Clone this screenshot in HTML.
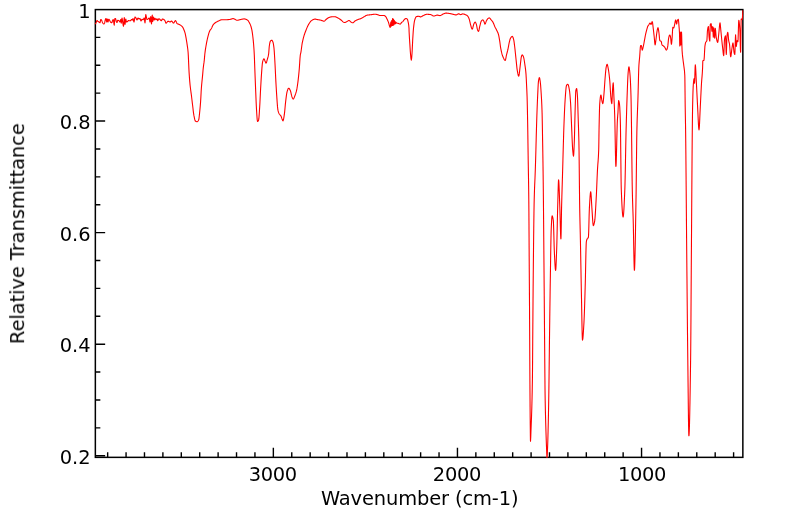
<!DOCTYPE html><html><head><meta charset="utf-8"><style>html,body{margin:0;padding:0;background:#fff;}svg{display:block;}text{font-family:"DejaVu Sans","Liberation Sans",sans-serif;font-size:19.44px;fill:#000;}</style></head><body>
<svg width="799" height="516" viewBox="0 0 799 516">
<path d="M733.60,457.35v-5 M715.19,457.35v-5 M696.78,457.35v-5 M678.37,457.35v-5 M659.96,457.35v-5 M641.55,457.35v-9.5 M623.14,457.35v-5 M604.73,457.35v-5 M586.32,457.35v-5 M567.91,457.35v-5 M549.50,457.35v-5 M531.09,457.35v-5 M512.68,457.35v-5 M494.27,457.35v-5 M475.86,457.35v-5 M457.45,457.35v-9.5 M439.04,457.35v-5 M420.63,457.35v-5 M402.22,457.35v-5 M383.81,457.35v-5 M365.40,457.35v-5 M346.99,457.35v-5 M328.58,457.35v-5 M310.17,457.35v-5 M291.76,457.35v-5 M273.35,457.35v-9.5 M254.94,457.35v-5 M236.53,457.35v-5 M218.12,457.35v-5 M199.71,457.35v-5 M181.30,457.35v-5 M162.89,457.35v-5 M144.48,457.35v-5 M126.07,457.35v-5 M107.66,457.35v-5 M95.35,455.74h9.8 M95.35,344.18h9.8 M95.35,232.62h9.8 M95.35,121.06h9.8 M95.35,427.85h5 M95.35,399.96h5 M95.35,372.07h5 M95.35,316.29h5 M95.35,288.40h5 M95.35,260.51h5 M95.35,204.73h5 M95.35,176.84h5 M95.35,148.95h5 M95.35,93.17h5 M95.35,65.28h5 M95.35,37.39h5" stroke="#000" stroke-width="1.4" fill="none"/>
<rect x="95.35" y="9.60" width="647.50" height="447.75" fill="none" stroke="#000" stroke-width="1.5"/>
<defs><clipPath id="c"><rect x="94.60" y="8.85" width="649.00" height="449.25"/></clipPath></defs>
<path d="M95.00,24.00 L95.33,23.81 L95.67,23.45 L96.00,23.00 L96.33,22.14 L96.67,21.04 L97.00,20.50 L97.33,20.71 L97.67,21.14 L98.00,21.50 L98.33,21.68 L98.67,21.83 L99.00,22.00 L99.33,22.28 L99.67,22.60 L100.00,22.75 L100.25,21.91 L100.50,20.34 L100.75,19.50 L101.00,19.57 L101.25,19.76 L101.50,20.00 L101.83,20.68 L102.17,21.68 L102.50,22.50 L102.81,23.02 L103.12,23.51 L103.44,23.86 L103.75,24.00 L104.00,23.90 L104.25,23.62 L104.50,23.25 L104.75,22.38 L105.00,21.06 L105.25,20.00 L105.50,19.31 L105.75,18.74 L106.00,18.50 L106.25,19.41 L106.50,21.09 L106.75,22.00 L107.00,20.50 L107.25,19.00 L107.50,19.78 L107.75,21.22 L108.00,22.00 L108.25,21.29 L108.50,19.96 L108.75,19.25 L109.00,19.37 L109.25,19.66 L109.50,20.00 L109.83,20.64 L110.17,21.44 L110.50,22.00 L110.81,22.28 L111.12,22.52 L111.44,22.69 L111.75,22.75 L112.00,22.35 L112.25,21.50 L112.50,20.75 L112.75,20.20 L113.00,19.71 L113.25,19.50 L113.58,20.99 L113.92,23.76 L114.25,25.25 L114.50,22.04 L114.75,18.75 L115.00,18.61 L115.25,18.53 L115.50,18.50 L115.75,19.17 L116.00,20.50 L116.25,21.50 L116.50,21.98 L116.75,22.35 L117.00,22.50 L117.25,21.92 L117.50,20.83 L117.75,20.25 L118.06,20.29 L118.38,20.40 L118.69,20.56 L119.00,20.75 L119.33,21.17 L119.67,21.72 L120.00,22.00 L120.25,21.35 L120.50,20.15 L120.75,19.50 L121.00,21.38 L121.25,23.25 L121.50,21.89 L121.75,19.36 L122.00,18.00 L122.25,18.86 L122.50,20.73 L122.75,22.50 L123.00,24.08 L123.25,25.58 L123.50,26.25 L123.75,23.98 L124.00,19.77 L124.25,17.50 L124.50,19.31 L124.75,22.69 L125.00,24.50 L125.25,23.07 L125.50,20.43 L125.75,19.00 L126.00,19.78 L126.25,21.22 L126.50,22.00 L126.83,21.92 L127.17,21.73 L127.50,21.50 L127.83,21.14 L128.17,20.71 L128.50,20.50 L128.83,20.56 L129.17,20.69 L129.50,20.75 L129.83,20.75 L130.17,20.75 L130.50,20.75 L130.83,20.43 L131.17,19.82 L131.50,19.50 L131.83,19.63 L132.17,19.87 L132.50,20.00 L132.75,19.25 L133.00,18.50 L133.33,19.41 L133.67,21.09 L134.00,22.00 L134.33,20.70 L134.67,18.30 L135.00,17.00 L135.33,17.16 L135.67,17.54 L136.00,18.00 L136.33,18.72 L136.67,19.58 L137.00,20.00 L137.33,19.48 L137.67,18.52 L138.00,18.00 L138.33,18.26 L138.67,18.74 L139.00,19.00 L139.33,18.87 L139.67,18.63 L140.00,18.50 L140.33,19.15 L140.67,20.35 L141.00,21.00 L141.33,20.55 L141.67,19.70 L142.00,19.25 L142.33,19.38 L142.67,19.62 L143.00,19.75 L143.31,19.48 L143.62,18.88 L143.94,18.27 L144.25,18.00 L144.50,19.30 L144.75,21.70 L145.00,23.00 L145.25,20.80 L145.50,16.70 L145.75,14.50 L146.00,15.25 L146.25,16.50 L146.50,17.72 L146.75,18.94 L147.00,19.50 L147.33,19.42 L147.67,19.22 L148.00,19.00 L148.31,18.74 L148.62,18.40 L148.94,18.12 L149.25,18.00 L149.50,19.04 L149.75,20.96 L150.00,22.00 L150.25,20.57 L150.50,17.93 L150.75,16.50 L151.00,18.44 L151.25,22.06 L151.50,24.00 L151.75,21.67 L152.00,17.33 L152.25,15.00 L152.50,18.25 L152.75,21.50 L153.00,20.33 L153.25,18.17 L153.50,17.00 L153.75,17.78 L154.00,19.22 L154.25,20.00 L154.50,19.55 L154.75,18.70 L155.00,18.25 L155.33,18.64 L155.67,19.36 L156.00,19.75 L156.33,19.49 L156.67,19.01 L157.00,18.75 L157.25,19.27 L157.50,20.23 L157.75,20.75 L158.08,20.23 L158.42,19.27 L158.75,18.75 L159.06,18.82 L159.38,19.01 L159.69,19.25 L160.00,19.50 L160.31,19.83 L160.62,20.24 L160.94,20.60 L161.25,20.75 L161.56,20.48 L161.88,19.88 L162.19,19.27 L162.50,19.00 L162.81,19.04 L163.12,19.16 L163.44,19.32 L163.75,19.50 L164.06,19.71 L164.38,19.99 L164.69,20.33 L165.00,20.75 L165.33,21.61 L165.67,22.71 L166.00,23.25 L166.33,23.06 L166.67,22.66 L167.00,22.25 L167.33,21.84 L167.67,21.44 L168.00,21.25 L168.33,21.29 L168.67,21.39 L169.00,21.50 L169.31,21.63 L169.62,21.80 L169.94,21.94 L170.25,22.00 L170.56,21.84 L170.88,21.50 L171.19,21.16 L171.50,21.00 L171.83,21.16 L172.17,21.54 L172.50,22.05 L172.83,22.56 L173.17,22.94 L173.50,23.10 L173.83,22.91 L174.17,22.45 L174.50,21.85 L174.83,21.25 L175.17,20.79 L175.50,20.60 L175.82,20.88 L176.14,21.55 L176.46,22.39 L176.78,23.15 L177.10,23.60 L177.43,23.79 L177.77,23.94 L178.10,24.05 L178.43,24.15 L178.77,24.26 L179.10,24.40 L179.43,24.56 L179.77,24.74 L180.10,24.93 L180.43,25.14 L180.77,25.36 L181.10,25.60 L181.40,25.84 L181.70,26.10 L182.00,26.39 L182.30,26.72 L182.60,27.10 L182.90,27.56 L183.20,28.13 L183.50,28.77 L183.80,29.47 L184.10,30.20 L184.43,31.07 L184.77,32.05 L185.10,33.20 L185.43,34.64 L185.77,36.37 L186.10,38.20 L186.43,40.08 L186.77,42.10 L187.10,44.30 L187.43,46.55 L187.77,49.04 L188.10,52.30 L188.30,55.38 L188.50,59.61 L188.70,64.32 L188.90,68.87 L189.10,72.60 L189.43,77.45 L189.77,81.65 L190.10,85.20 L190.43,88.06 L190.75,90.52 L191.07,92.84 L191.40,95.30 L191.70,97.77 L192.00,100.30 L192.30,102.83 L192.60,105.30 L192.93,108.04 L193.25,110.82 L193.57,113.37 L193.90,115.40 L194.20,116.95 L194.50,118.42 L194.80,119.69 L195.10,120.62 L195.40,121.10 L195.72,121.30 L196.04,121.47 L196.36,121.59 L196.68,121.67 L197.00,121.70 L197.34,121.62 L197.68,121.38 L198.02,120.99 L198.36,120.46 L198.70,119.80 L199.00,118.34 L199.30,115.76 L199.60,112.90 L199.93,109.64 L200.27,105.90 L200.60,101.60 L200.87,97.14 L201.13,92.04 L201.40,87.70 L201.68,84.46 L201.95,81.71 L202.22,79.14 L202.50,76.40 L202.77,73.39 L203.03,70.32 L203.30,67.60 L203.63,64.98 L203.97,62.68 L204.30,60.00 L204.55,57.12 L204.80,54.30 L205.10,51.84 L205.40,49.68 L205.70,47.75 L206.00,45.98 L206.30,44.30 L206.60,42.69 L206.90,41.16 L207.20,39.74 L207.50,38.42 L207.80,37.20 L208.13,35.91 L208.47,34.65 L208.80,33.46 L209.13,32.38 L209.47,31.45 L209.80,30.70 L210.10,30.19 L210.40,29.78 L210.70,29.42 L211.00,29.04 L211.30,28.60 L211.63,27.98 L211.97,27.26 L212.30,26.49 L212.63,25.75 L212.97,25.10 L213.30,24.60 L213.63,24.22 L213.97,23.87 L214.30,23.55 L214.63,23.26 L214.97,23.00 L215.30,22.75 L215.63,22.52 L215.97,22.31 L216.30,22.10 L216.64,21.90 L216.99,21.71 L217.33,21.53 L217.68,21.36 L218.02,21.20 L218.37,21.05 L218.71,20.90 L219.06,20.75 L219.40,20.60 L219.73,20.44 L220.07,20.26 L220.40,20.09 L220.73,19.94 L221.07,19.84 L221.40,19.80 L221.73,19.80 L222.07,19.80 L222.40,19.80 L222.73,19.80 L223.07,19.80 L223.40,19.80 L223.73,19.80 L224.07,19.80 L224.40,19.80 L224.73,19.80 L225.07,19.80 L225.40,19.80 L225.73,19.80 L226.07,19.79 L226.40,19.77 L226.73,19.75 L227.07,19.72 L227.40,19.69 L227.73,19.66 L228.07,19.63 L228.40,19.60 L228.75,19.56 L229.10,19.52 L229.45,19.47 L229.80,19.42 L230.15,19.36 L230.50,19.30 L230.81,19.23 L231.12,19.12 L231.44,19.01 L231.75,18.89 L232.06,18.78 L232.38,18.69 L232.69,18.62 L233.00,18.60 L233.33,18.63 L233.67,18.72 L234.00,18.85 L234.33,19.00 L234.67,19.15 L235.00,19.30 L235.33,19.47 L235.67,19.68 L236.00,19.90 L236.33,20.10 L236.67,20.24 L237.00,20.30 L237.31,20.29 L237.62,20.25 L237.94,20.19 L238.25,20.12 L238.56,20.04 L238.88,19.96 L239.19,19.87 L239.50,19.80 L239.83,19.72 L240.17,19.63 L240.50,19.54 L240.83,19.45 L241.17,19.37 L241.50,19.30 L241.82,19.23 L242.15,19.17 L242.47,19.10 L242.80,19.04 L243.12,18.98 L243.45,18.94 L243.78,18.91 L244.10,18.90 L244.41,18.92 L244.72,18.96 L245.04,19.03 L245.35,19.12 L245.66,19.23 L245.97,19.35 L246.29,19.47 L246.60,19.60 L246.90,19.73 L247.20,19.90 L247.50,20.09 L247.80,20.33 L248.10,20.60 L248.40,21.00 L248.70,21.54 L249.00,22.10 L249.30,22.63 L249.60,23.17 L249.90,23.74 L250.20,24.38 L250.50,25.10 L250.78,25.88 L251.06,26.76 L251.34,27.77 L251.62,28.91 L251.90,30.20 L252.23,32.12 L252.57,34.51 L252.90,37.20 L253.25,40.42 L253.60,44.30 L253.83,47.31 L254.07,50.80 L254.30,55.00 L254.47,59.02 L254.63,63.86 L254.80,68.60 L254.96,72.79 L255.12,76.94 L255.28,81.01 L255.44,85.01 L255.60,88.90 L255.78,93.32 L255.96,97.81 L256.14,102.12 L256.32,106.03 L256.50,109.30 L256.83,114.83 L257.17,119.52 L257.50,121.50 L257.77,121.40 L258.05,121.12 L258.33,120.68 L258.60,120.10 L258.88,118.42 L259.15,115.13 L259.43,110.95 L259.70,106.60 L259.93,102.66 L260.15,98.05 L260.38,93.28 L260.60,88.90 L260.85,84.45 L261.10,80.14 L261.35,76.14 L261.60,72.60 L261.93,68.15 L262.27,64.19 L262.60,61.80 L262.95,60.60 L263.30,59.65 L263.65,59.03 L264.00,58.80 L264.30,59.10 L264.60,59.83 L264.90,60.72 L265.20,61.50 L265.47,62.16 L265.73,62.81 L266.00,63.10 L266.35,62.70 L266.70,61.70 L267.05,60.40 L267.40,59.10 L267.72,58.02 L268.05,56.88 L268.38,55.44 L268.70,53.50 L268.95,50.32 L269.20,47.00 L269.53,44.49 L269.87,42.56 L270.20,41.50 L270.50,41.06 L270.80,40.70 L271.10,40.43 L271.40,40.26 L271.70,40.20 L272.02,40.36 L272.35,40.79 L272.68,41.43 L273.00,42.20 L273.33,43.51 L273.67,45.61 L274.00,48.30 L274.30,51.87 L274.60,56.73 L274.90,62.00 L275.10,65.73 L275.30,69.84 L275.50,74.09 L275.70,78.26 L275.90,82.10 L276.15,86.53 L276.40,90.77 L276.65,94.75 L276.90,98.40 L277.20,102.69 L277.50,106.64 L277.80,109.30 L278.07,110.70 L278.35,111.80 L278.62,112.65 L278.90,113.30 L279.20,113.84 L279.50,114.27 L279.80,114.63 L280.10,114.95 L280.40,115.27 L280.70,115.64 L281.00,116.10 L281.33,116.84 L281.67,117.82 L282.00,118.88 L282.33,119.83 L282.67,120.53 L283.00,120.80 L283.32,120.23 L283.65,118.77 L283.98,116.81 L284.30,114.70 L284.65,111.86 L285.00,108.20 L285.35,104.38 L285.70,101.10 L285.98,98.83 L286.26,96.59 L286.54,94.53 L286.82,92.82 L287.10,91.60 L287.42,90.58 L287.74,89.65 L288.06,88.89 L288.38,88.39 L288.70,88.20 L289.00,88.31 L289.30,88.62 L289.60,89.08 L289.90,89.66 L290.20,90.31 L290.50,91.00 L290.82,92.11 L291.15,93.65 L291.48,95.21 L291.80,96.40 L292.15,97.34 L292.50,98.21 L292.85,98.85 L293.20,99.10 L293.54,98.88 L293.88,98.30 L294.22,97.50 L294.56,96.59 L294.90,95.70 L295.24,94.84 L295.58,93.90 L295.92,92.85 L296.26,91.66 L296.60,90.30 L296.93,88.70 L297.25,86.74 L297.57,84.51 L297.90,82.10 L298.18,79.84 L298.46,77.35 L298.74,74.63 L299.02,71.70 L299.30,68.60 L299.63,63.87 L299.97,58.64 L300.30,55.00 L300.60,53.56 L300.90,52.30 L301.22,50.22 L301.55,47.74 L301.88,45.26 L302.20,43.20 L302.54,41.52 L302.88,40.01 L303.22,38.64 L303.56,37.38 L303.90,36.20 L304.20,35.21 L304.50,34.28 L304.80,33.40 L305.10,32.55 L305.40,31.75 L305.70,30.96 L306.00,30.20 L306.31,29.41 L306.62,28.64 L306.94,27.88 L307.25,27.14 L307.56,26.44 L307.88,25.77 L308.19,25.16 L308.50,24.60 L308.83,24.04 L309.17,23.49 L309.50,22.96 L309.83,22.46 L310.17,21.98 L310.50,21.55 L310.83,21.18 L311.17,20.85 L311.50,20.60 L311.85,20.37 L312.20,20.15 L312.55,19.94 L312.90,19.74 L313.25,19.56 L313.60,19.41 L313.95,19.28 L314.30,19.18 L314.65,19.12 L315.00,19.10 L315.31,19.12 L315.62,19.16 L315.94,19.22 L316.25,19.29 L316.56,19.38 L316.88,19.46 L317.19,19.54 L317.50,19.60 L317.81,19.65 L318.12,19.70 L318.44,19.75 L318.75,19.79 L319.06,19.84 L319.38,19.88 L319.69,19.94 L320.00,20.00 L320.33,20.08 L320.67,20.17 L321.00,20.28 L321.33,20.39 L321.67,20.50 L322.00,20.60 L322.33,20.71 L322.67,20.84 L323.00,20.98 L323.33,21.09 L323.67,21.17 L324.00,21.20 L324.33,21.11 L324.67,20.87 L325.00,20.54 L325.33,20.16 L325.67,19.80 L326.00,19.50 L326.33,19.24 L326.67,18.98 L327.00,18.72 L327.33,18.47 L327.67,18.23 L328.00,18.00 L328.33,17.81 L328.67,17.63 L329.00,17.50 L329.33,17.38 L329.67,17.27 L330.00,17.16 L330.33,17.07 L330.67,16.98 L331.00,16.90 L331.33,16.85 L331.67,16.81 L332.00,16.80 L332.33,16.80 L332.67,16.80 L333.00,16.80 L333.33,16.80 L333.67,16.80 L334.00,16.80 L334.33,16.80 L334.67,16.80 L335.00,16.80 L335.33,16.82 L335.67,16.89 L336.00,17.00 L336.33,17.14 L336.67,17.29 L337.00,17.47 L337.33,17.65 L337.67,17.83 L338.00,18.00 L338.33,18.18 L338.67,18.37 L339.00,18.59 L339.33,18.81 L339.67,19.05 L340.00,19.29 L340.33,19.53 L340.67,19.77 L341.00,20.00 L341.35,20.27 L341.70,20.57 L342.05,20.89 L342.40,21.23 L342.75,21.55 L343.10,21.85 L343.45,22.11 L343.80,22.32 L344.15,22.45 L344.50,22.50 L344.81,22.47 L345.12,22.40 L345.44,22.28 L345.75,22.14 L346.06,21.98 L346.38,21.81 L346.69,21.65 L347.00,21.50 L347.33,21.32 L347.67,21.11 L348.00,20.89 L348.33,20.69 L348.67,20.55 L349.00,20.50 L349.33,20.59 L349.67,20.81 L350.00,21.11 L350.33,21.45 L350.67,21.76 L351.00,22.00 L351.30,22.18 L351.60,22.36 L351.90,22.53 L352.20,22.67 L352.50,22.76 L352.80,22.80 L353.11,22.72 L353.43,22.52 L353.74,22.24 L354.06,21.90 L354.37,21.56 L354.69,21.24 L355.00,21.00 L355.33,20.80 L355.67,20.60 L356.00,20.42 L356.33,20.25 L356.67,20.08 L357.00,19.93 L357.33,19.78 L357.67,19.64 L358.00,19.50 L358.33,19.37 L358.67,19.26 L359.00,19.16 L359.33,19.06 L359.67,18.96 L360.00,18.86 L360.33,18.75 L360.67,18.63 L361.00,18.50 L361.33,18.35 L361.67,18.18 L362.00,17.99 L362.33,17.80 L362.67,17.60 L363.00,17.39 L363.33,17.19 L363.67,16.99 L364.00,16.80 L364.33,16.61 L364.67,16.40 L365.00,16.19 L365.33,15.98 L365.67,15.77 L366.00,15.59 L366.33,15.42 L366.67,15.29 L367.00,15.20 L367.33,15.13 L367.67,15.08 L368.00,15.03 L368.33,14.98 L368.67,14.94 L369.00,14.91 L369.33,14.87 L369.67,14.84 L370.00,14.81 L370.33,14.78 L370.67,14.74 L371.00,14.70 L371.33,14.66 L371.67,14.61 L372.00,14.55 L372.33,14.50 L372.67,14.44 L373.00,14.39 L373.33,14.34 L373.67,14.29 L374.00,14.25 L374.33,14.23 L374.67,14.21 L375.00,14.20 L375.33,14.21 L375.67,14.25 L376.00,14.30 L376.33,14.36 L376.67,14.44 L377.00,14.53 L377.33,14.62 L377.67,14.71 L378.00,14.80 L378.33,14.91 L378.67,15.06 L379.00,15.21 L379.33,15.36 L379.67,15.46 L380.00,15.50 L380.33,15.50 L380.67,15.50 L381.00,15.50 L381.33,15.50 L381.67,15.50 L382.00,15.50 L382.33,15.50 L382.67,15.50 L383.00,15.50 L383.33,15.50 L383.67,15.50 L384.00,15.50 L384.32,15.56 L384.64,15.71 L384.96,15.93 L385.28,16.20 L385.60,16.50 L385.88,16.84 L386.15,17.32 L386.43,17.85 L386.70,18.40 L387.00,18.99 L387.30,19.61 L387.60,20.26 L387.90,20.94 L388.20,21.66 L388.50,22.40 L388.84,23.47 L389.18,24.78 L389.52,26.05 L389.86,27.02 L390.20,27.40 L390.53,24.67 L390.87,21.93 L391.08,24.06 L391.29,26.19 L391.50,23.42 L391.72,20.65 L391.93,23.00 L392.14,25.34 L392.36,21.93 L392.57,18.52 L392.78,21.93 L393.00,25.34 L393.21,22.14 L393.42,18.95 L393.63,21.93 L393.85,24.91 L394.06,22.57 L394.27,20.23 L394.49,22.15 L394.70,24.06 L394.91,22.78 L395.13,21.50 L395.34,22.57 L395.55,23.63 L395.76,23.00 L395.98,22.36 L396.30,22.65 L396.62,23.00 L396.96,23.12 L397.29,23.20 L397.63,23.26 L397.96,23.32 L398.30,23.40 L398.62,23.52 L398.93,23.66 L399.25,23.82 L399.57,23.96 L399.88,24.06 L400.20,24.10 L400.48,23.95 L400.75,23.59 L401.02,23.16 L401.30,22.80 L401.64,22.48 L401.98,22.19 L402.32,21.91 L402.66,21.62 L403.00,21.30 L403.34,20.90 L403.68,20.43 L404.02,19.95 L404.36,19.52 L404.70,19.20 L405.02,18.96 L405.35,18.73 L405.68,18.56 L406.00,18.50 L406.32,18.55 L406.65,18.69 L406.98,18.91 L407.30,19.20 L407.57,19.75 L407.83,20.72 L408.10,21.90 L408.40,23.22 L408.70,25.04 L409.00,28.30 L409.10,31.70 L409.45,38.33 L409.80,43.40 L410.07,47.67 L410.33,51.76 L410.60,55.00 L410.95,58.45 L411.30,60.20 L411.65,58.10 L412.00,53.80 L412.23,49.77 L412.47,44.60 L412.70,39.90 L412.97,35.46 L413.23,31.44 L413.50,28.30 L413.80,25.60 L414.10,23.26 L414.40,21.40 L414.70,20.10 L415.04,19.04 L415.38,18.11 L415.72,17.36 L416.06,16.84 L416.40,16.60 L416.73,16.52 L417.06,16.45 L417.39,16.40 L417.71,16.36 L418.04,16.33 L418.37,16.31 L418.70,16.30 L419.00,16.34 L419.30,16.46 L419.60,16.60 L419.90,16.74 L420.20,16.86 L420.50,16.90 L420.82,16.86 L421.14,16.77 L421.47,16.62 L421.79,16.44 L422.11,16.24 L422.43,16.04 L422.76,15.83 L423.08,15.65 L423.40,15.50 L423.75,15.35 L424.10,15.19 L424.45,15.03 L424.80,14.87 L425.15,14.72 L425.50,14.59 L425.85,14.47 L426.20,14.38 L426.55,14.32 L426.90,14.30 L427.24,14.30 L427.58,14.31 L427.92,14.32 L428.26,14.34 L428.60,14.36 L428.94,14.38 L429.28,14.41 L429.62,14.43 L429.96,14.47 L430.30,14.50 L430.65,14.57 L431.00,14.70 L431.35,14.88 L431.70,15.08 L432.05,15.30 L432.40,15.51 L432.75,15.70 L433.10,15.86 L433.45,15.96 L433.80,16.00 L434.15,15.97 L434.50,15.91 L434.85,15.81 L435.20,15.68 L435.55,15.55 L435.90,15.42 L436.25,15.29 L436.60,15.19 L436.95,15.13 L437.30,15.10 L437.64,15.12 L437.98,15.18 L438.31,15.26 L438.65,15.35 L438.99,15.44 L439.32,15.52 L439.66,15.58 L440.00,15.60 L440.33,15.56 L440.67,15.46 L441.00,15.30 L441.33,15.11 L441.67,14.89 L442.00,14.67 L442.33,14.45 L442.67,14.26 L443.00,14.10 L443.33,13.96 L443.67,13.81 L444.00,13.66 L444.33,13.52 L444.67,13.39 L445.00,13.27 L445.33,13.18 L445.67,13.12 L446.00,13.10 L446.34,13.11 L446.68,13.12 L447.02,13.15 L447.37,13.18 L447.71,13.22 L448.05,13.27 L448.39,13.32 L448.73,13.37 L449.08,13.43 L449.42,13.49 L449.76,13.54 L450.10,13.60 L450.43,13.66 L450.77,13.73 L451.10,13.81 L451.43,13.89 L451.77,13.97 L452.10,14.06 L452.43,14.14 L452.77,14.22 L453.10,14.30 L453.43,14.38 L453.77,14.46 L454.10,14.55 L454.43,14.64 L454.77,14.72 L455.10,14.79 L455.43,14.85 L455.77,14.89 L456.10,14.90 L456.41,14.85 L456.73,14.73 L457.04,14.55 L457.35,14.35 L457.66,14.15 L457.98,13.97 L458.29,13.85 L458.60,13.80 L458.95,13.86 L459.30,14.01 L459.65,14.20 L460.00,14.39 L460.35,14.54 L460.70,14.60 L461.03,14.55 L461.37,14.42 L461.70,14.25 L462.03,14.08 L462.37,13.95 L462.70,13.90 L463.03,13.92 L463.37,13.97 L463.70,14.04 L464.03,14.14 L464.37,14.25 L464.70,14.38 L465.03,14.52 L465.37,14.66 L465.70,14.80 L466.03,14.95 L466.37,15.11 L466.70,15.30 L467.03,15.53 L467.37,15.79 L467.70,16.10 L468.00,16.48 L468.30,16.99 L468.60,17.61 L468.90,18.32 L469.20,19.10 L469.50,20.09 L469.80,21.36 L470.10,22.74 L470.40,24.08 L470.70,25.20 L471.00,26.23 L471.30,27.30 L471.60,28.26 L471.90,28.94 L472.20,29.20 L472.52,28.77 L472.84,27.72 L473.16,26.37 L473.48,25.05 L473.80,24.10 L474.12,23.41 L474.45,22.77 L474.78,22.29 L475.10,22.10 L475.40,22.27 L475.70,22.73 L476.00,23.37 L476.30,24.10 L476.60,25.25 L476.90,26.90 L477.20,28.55 L477.50,29.70 L477.83,30.50 L478.17,31.14 L478.50,31.40 L478.82,30.81 L479.15,29.40 L479.48,27.69 L479.80,26.20 L480.10,25.02 L480.40,23.80 L480.70,22.64 L481.00,21.70 L481.30,21.10 L481.60,20.73 L481.90,20.40 L482.20,20.14 L482.50,19.96 L482.80,19.90 L483.10,20.06 L483.40,20.48 L483.70,21.03 L484.00,21.60 L484.33,22.52 L484.67,23.59 L485.00,24.10 L485.32,23.75 L485.65,22.90 L485.98,21.91 L486.30,21.10 L486.62,20.49 L486.94,19.90 L487.26,19.36 L487.58,18.91 L487.90,18.60 L488.20,18.39 L488.50,18.20 L488.80,18.04 L489.10,17.94 L489.40,17.90 L489.70,18.02 L490.00,18.33 L490.30,18.75 L490.60,19.20 L490.90,19.60 L491.23,19.98 L491.57,20.36 L491.90,20.74 L492.23,21.15 L492.57,21.59 L492.90,22.10 L493.23,22.72 L493.57,23.46 L493.90,24.27 L494.23,25.11 L494.57,25.94 L494.90,26.70 L495.23,27.39 L495.57,28.05 L495.90,28.69 L496.23,29.34 L496.57,30.00 L496.90,30.70 L497.20,31.32 L497.50,31.93 L497.80,32.58 L498.10,33.32 L498.40,34.20 L498.70,35.37 L499.00,36.85 L499.30,38.53 L499.60,40.30 L499.88,42.16 L500.15,44.28 L500.43,46.36 L500.70,48.10 L501.00,49.67 L501.30,51.13 L501.60,52.48 L501.90,53.69 L502.20,54.73 L502.50,55.60 L502.84,56.47 L503.18,57.32 L503.51,58.13 L503.85,58.86 L504.19,59.49 L504.52,59.97 L504.86,60.29 L505.20,60.40 L505.52,59.79 L505.85,58.31 L506.18,56.50 L506.50,54.90 L506.85,53.55 L507.20,52.27 L507.55,50.95 L507.90,49.50 L508.22,47.88 L508.55,46.05 L508.88,44.25 L509.20,42.70 L509.52,41.33 L509.85,40.03 L510.18,38.94 L510.50,38.20 L510.80,37.73 L511.10,37.31 L511.40,36.94 L511.70,36.65 L512.00,36.47 L512.30,36.40 L512.62,36.65 L512.95,37.30 L513.27,38.22 L513.60,39.30 L513.88,40.59 L514.15,42.44 L514.43,44.59 L514.70,46.80 L515.03,49.59 L515.35,52.69 L515.67,55.90 L516.00,59.00 L516.33,62.15 L516.65,65.38 L516.97,68.33 L517.30,70.60 L517.58,72.18 L517.86,73.69 L518.14,74.97 L518.42,75.87 L518.70,76.20 L519.00,75.48 L519.30,73.63 L519.60,71.10 L519.90,68.37 L520.20,65.90 L520.50,63.40 L520.80,60.64 L521.10,58.18 L521.40,56.60 L521.67,55.78 L521.93,55.15 L522.20,54.90 L522.50,55.04 L522.80,55.42 L523.10,55.96 L523.40,56.60 L523.70,57.55 L524.00,59.00 L524.30,60.78 L524.60,62.76 L524.90,64.80 L525.17,66.66 L525.45,68.69 L525.73,71.10 L526.00,74.10 L526.30,79.23 L526.60,85.70 L526.85,90.90 L527.10,97.30 L527.20,100.77 L527.30,104.92 L527.40,109.62 L527.50,114.69 L527.60,120.00 L527.66,123.37 L527.72,127.00 L527.78,130.86 L527.84,134.88 L527.90,139.03 L527.96,143.25 L528.02,147.51 L528.08,151.75 L528.14,155.93 L528.20,160.00 L528.26,163.85 L528.32,167.46 L528.38,170.94 L528.44,174.38 L528.50,177.89 L528.56,181.57 L528.62,185.52 L528.68,189.84 L528.74,194.64 L528.80,200.00 L528.83,202.72 L528.85,205.79 L528.88,209.17 L528.91,212.83 L528.93,216.73 L528.96,220.82 L528.99,225.07 L529.01,229.43 L529.04,233.88 L529.07,238.36 L529.09,242.85 L529.12,247.29 L529.15,251.66 L529.17,255.91 L529.20,260.00 L529.23,263.96 L529.25,267.86 L529.28,271.71 L529.31,275.53 L529.33,279.33 L529.36,283.13 L529.39,286.95 L529.41,290.80 L529.44,294.70 L529.47,298.66 L529.49,302.70 L529.52,306.84 L529.55,311.09 L529.57,315.47 L529.60,320.00 L529.62,323.57 L529.64,327.36 L529.66,331.33 L529.68,335.45 L529.70,339.67 L529.72,343.97 L529.74,348.30 L529.76,352.64 L529.78,356.94 L529.80,361.17 L529.82,365.29 L529.84,369.27 L529.86,373.08 L529.88,376.66 L529.90,380.00 L529.93,384.76 L529.96,389.41 L529.99,393.94 L530.02,398.32 L530.05,402.53 L530.08,406.53 L530.11,410.30 L530.14,413.82 L530.17,417.06 L530.20,420.00 L530.26,425.77 L530.32,431.50 L530.38,436.47 L530.44,439.97 L530.50,441.30 L530.75,437.32 L531.00,430.00 L531.12,426.95 L531.23,423.97 L531.35,420.99 L531.47,417.91 L531.58,414.67 L531.70,411.16 L531.82,407.31 L531.93,403.03 L532.05,398.25 L532.17,392.87 L532.28,386.82 L532.40,380.00 L532.43,377.60 L532.47,374.59 L532.50,371.05 L532.53,367.07 L532.57,362.74 L532.60,358.15 L532.63,353.39 L532.67,348.54 L532.70,343.68 L532.73,338.92 L532.77,334.33 L532.80,330.00 L532.83,325.77 L532.87,321.44 L532.90,317.04 L532.93,312.61 L532.97,308.18 L533.00,303.79 L533.03,299.46 L533.07,295.23 L533.10,291.13 L533.13,287.21 L533.17,283.49 L533.20,280.00 L533.25,274.97 L533.30,269.97 L533.35,265.01 L533.40,260.10 L533.45,255.26 L533.50,250.50 L533.55,245.83 L533.60,241.27 L533.65,236.84 L533.70,232.53 L533.75,228.38 L533.80,224.39 L533.85,220.58 L533.90,216.96 L533.95,213.54 L534.00,210.34 L534.05,207.38 L534.10,204.65 L534.15,202.19 L534.20,200.00 L534.36,194.19 L534.51,189.42 L534.67,185.38 L534.83,181.74 L534.99,178.18 L535.14,174.37 L535.30,170.00 L535.42,166.28 L535.54,162.39 L535.66,158.37 L535.78,154.23 L535.90,150.00 L536.02,145.34 L536.15,140.44 L536.27,135.57 L536.40,131.00 L536.55,125.89 L536.70,121.00 L536.85,116.35 L537.00,112.00 L537.20,106.56 L537.40,101.52 L537.60,97.00 L537.83,92.10 L538.05,87.34 L538.27,83.40 L538.50,81.00 L538.80,79.29 L539.10,78.07 L539.40,77.60 L539.70,78.30 L540.00,80.03 L540.30,82.20 L540.60,85.13 L540.90,89.17 L541.20,93.80 L541.40,97.01 L541.60,100.54 L541.80,104.75 L542.00,110.00 L542.09,112.91 L542.17,116.52 L542.26,120.68 L542.34,125.25 L542.43,130.08 L542.51,135.05 L542.60,140.00 L542.66,143.45 L542.72,146.97 L542.78,150.58 L542.84,154.30 L542.90,158.14 L542.96,162.13 L543.02,166.29 L543.08,170.64 L543.14,175.20 L543.20,180.00 L543.24,183.03 L543.27,186.20 L543.31,189.51 L543.34,192.95 L543.38,196.51 L543.42,200.18 L543.45,203.95 L543.49,207.82 L543.52,211.78 L543.56,215.82 L543.60,219.92 L543.63,224.09 L543.67,228.31 L543.70,232.57 L543.74,236.87 L543.78,241.20 L543.81,245.55 L543.85,249.91 L543.88,254.27 L543.92,258.62 L543.96,262.96 L543.99,267.27 L544.03,271.56 L544.06,275.80 L544.10,280.00 L544.13,283.89 L544.17,287.83 L544.20,291.82 L544.23,295.84 L544.27,299.88 L544.30,303.95 L544.33,308.02 L544.37,312.10 L544.40,316.17 L544.43,320.23 L544.47,324.26 L544.50,328.27 L544.53,332.23 L544.57,336.14 L544.60,340.00 L544.64,344.51 L544.68,349.18 L544.72,353.95 L544.75,358.76 L544.79,363.57 L544.83,368.30 L544.87,372.92 L544.91,377.36 L544.95,381.58 L544.98,385.50 L545.02,389.08 L545.06,392.27 L545.10,395.00 L545.20,401.03 L545.30,406.29 L545.40,410.91 L545.50,415.05 L545.60,418.84 L545.70,422.45 L545.80,426.00 L545.94,430.83 L546.08,435.31 L546.22,439.47 L546.36,443.36 L546.50,447.00 L546.75,454.07 L547.00,458.00 L547.30,454.30 L547.60,447.00 L547.72,443.77 L547.84,439.93 L547.96,435.61 L548.08,430.93 L548.20,426.00 L548.29,422.31 L548.37,418.39 L548.46,414.23 L548.54,409.82 L548.63,405.15 L548.71,400.22 L548.80,395.00 L548.85,391.75 L548.90,388.25 L548.95,384.55 L549.00,380.66 L549.05,376.62 L549.10,372.45 L549.15,368.18 L549.20,363.84 L549.25,359.46 L549.30,355.07 L549.35,350.69 L549.40,346.35 L549.45,342.09 L549.50,337.92 L549.55,333.88 L549.60,330.00 L549.66,325.58 L549.72,321.17 L549.77,316.78 L549.83,312.43 L549.89,308.12 L549.95,303.87 L550.01,299.68 L550.07,295.56 L550.12,291.52 L550.18,287.57 L550.24,283.73 L550.30,280.00 L550.38,275.18 L550.45,270.23 L550.52,265.21 L550.60,260.21 L550.67,255.30 L550.75,250.55 L550.83,246.05 L550.90,241.86 L550.98,238.07 L551.05,234.74 L551.12,231.96 L551.20,229.80 L551.50,222.93 L551.80,217.81 L552.10,215.80 L552.40,216.14 L552.70,217.10 L553.00,218.59 L553.30,220.50 L553.44,222.34 L553.57,225.65 L553.71,230.01 L553.85,235.01 L553.99,240.23 L554.12,245.25 L554.26,249.64 L554.40,253.00 L554.70,259.05 L555.00,264.69 L555.30,268.87 L555.60,270.50 L555.82,269.16 L556.04,265.60 L556.26,260.51 L556.48,254.54 L556.70,248.40 L556.80,245.33 L556.90,241.65 L557.00,237.52 L557.10,233.04 L557.20,228.37 L557.30,223.61 L557.40,218.92 L557.50,214.42 L557.60,210.23 L557.70,206.50 L557.85,200.91 L558.00,194.96 L558.15,189.25 L558.30,184.41 L558.45,181.06 L558.60,179.80 L558.80,181.07 L559.00,184.46 L559.20,189.33 L559.40,195.06 L559.60,200.99 L559.80,206.50 L559.94,210.57 L560.07,215.51 L560.21,220.88 L560.35,226.25 L560.49,231.18 L560.62,235.23 L560.76,237.99 L560.90,239.00 L560.99,237.99 L561.08,235.24 L561.16,231.19 L561.25,226.27 L561.34,220.90 L561.42,215.53 L561.51,210.59 L561.60,206.50 L561.73,201.63 L561.85,197.03 L561.98,192.63 L562.10,188.37 L562.23,184.20 L562.35,180.06 L562.48,175.88 L562.60,171.60 L562.72,167.42 L562.84,163.12 L562.95,158.75 L563.07,154.36 L563.19,149.98 L563.31,145.66 L563.43,141.46 L563.55,137.40 L563.66,133.54 L563.78,129.93 L563.90,126.60 L564.10,121.32 L564.30,116.27 L564.50,111.54 L564.70,107.22 L564.90,103.41 L565.10,100.20 L565.45,95.15 L565.80,90.55 L566.15,87.07 L566.50,85.40 L566.83,84.94 L567.15,84.60 L567.47,84.38 L567.80,84.30 L568.10,84.57 L568.40,85.32 L568.70,86.43 L569.00,87.79 L569.30,89.30 L569.62,91.52 L569.95,94.71 L570.27,98.69 L570.60,103.30 L570.80,106.93 L571.00,111.53 L571.20,116.64 L571.40,121.81 L571.60,126.60 L571.82,131.76 L572.04,137.15 L572.26,142.29 L572.48,146.70 L572.70,149.90 L572.97,152.82 L573.23,155.15 L573.50,156.10 L573.77,153.90 L574.03,148.59 L574.30,142.10 L574.41,138.82 L574.53,134.68 L574.64,129.97 L574.76,124.97 L574.87,119.97 L574.99,115.25 L575.10,111.10 L575.24,106.17 L575.38,101.04 L575.52,96.35 L575.66,92.76 L575.80,90.90 L576.07,89.62 L576.33,88.79 L576.60,88.50 L576.87,89.52 L577.13,92.09 L577.40,95.50 L577.56,98.50 L577.72,102.86 L577.88,108.05 L578.04,113.54 L578.20,118.80 L578.34,122.96 L578.48,126.98 L578.62,131.25 L578.76,136.17 L578.90,142.10 L578.95,144.73 L579.00,147.89 L579.05,151.50 L579.10,155.49 L579.15,159.80 L579.20,164.35 L579.25,169.07 L579.30,173.90 L579.35,178.77 L579.40,183.60 L579.45,188.33 L579.50,192.89 L579.55,197.21 L579.60,201.21 L579.65,204.83 L579.70,208.00 L579.79,212.82 L579.88,217.14 L579.96,221.10 L580.05,224.83 L580.14,228.45 L580.23,232.09 L580.31,235.90 L580.40,240.00 L580.48,243.85 L580.55,247.84 L580.63,251.95 L580.71,256.15 L580.78,260.40 L580.86,264.69 L580.94,268.99 L581.02,273.26 L581.09,277.48 L581.17,281.62 L581.25,285.66 L581.32,289.56 L581.40,293.30 L581.50,298.31 L581.60,303.74 L581.70,309.39 L581.80,315.08 L581.90,320.62 L582.00,325.82 L582.10,330.50 L582.20,334.46 L582.30,337.52 L582.40,339.50 L582.50,340.20 L582.83,338.86 L583.15,335.38 L583.47,330.59 L583.80,325.30 L583.95,322.63 L584.10,319.50 L584.25,315.95 L584.40,312.02 L584.55,307.74 L584.70,303.16 L584.85,298.32 L585.00,293.25 L585.15,288.00 L585.30,282.60 L585.39,279.07 L585.47,275.00 L585.56,270.57 L585.65,265.98 L585.74,261.43 L585.83,257.12 L585.91,253.24 L586.00,250.00 L586.15,245.04 L586.30,242.00 L586.57,240.52 L586.83,239.68 L587.10,239.10 L587.42,238.59 L587.75,238.27 L588.08,237.90 L588.40,237.20 L588.54,235.60 L588.69,232.05 L588.83,227.22 L588.97,221.76 L589.11,216.31 L589.26,211.54 L589.40,208.10 L589.73,202.26 L590.05,196.99 L590.38,193.17 L590.70,191.70 L591.00,193.53 L591.30,197.94 L591.60,203.33 L591.90,208.10 L592.25,213.41 L592.60,219.14 L592.95,223.72 L593.30,225.60 L593.62,225.29 L593.95,224.44 L594.27,223.20 L594.60,221.70 L594.92,219.19 L595.24,215.10 L595.56,209.94 L595.88,204.21 L596.20,198.40 L596.39,194.80 L596.57,190.71 L596.76,186.31 L596.94,181.80 L597.13,177.35 L597.31,173.16 L597.50,169.40 L597.80,164.79 L598.10,161.09 L598.40,156.70 L598.70,150.00 L598.78,146.72 L598.86,141.92 L598.94,136.42 L599.02,131.04 L599.10,126.60 L599.22,121.00 L599.34,115.56 L599.46,110.69 L599.58,106.80 L599.70,104.30 L600.00,100.51 L600.30,97.58 L600.60,95.68 L600.90,95.00 L601.17,95.77 L601.45,97.57 L601.73,99.64 L602.00,101.20 L602.27,102.28 L602.53,103.21 L602.80,103.60 L603.10,102.62 L603.40,100.14 L603.70,96.86 L604.00,93.50 L604.27,90.04 L604.55,85.90 L604.83,81.68 L605.10,78.00 L605.38,74.74 L605.65,71.59 L605.93,68.92 L606.20,67.10 L606.50,65.75 L606.80,64.72 L607.10,64.30 L607.45,64.85 L607.80,66.26 L608.15,68.17 L608.50,70.20 L608.83,72.26 L609.15,74.77 L609.47,77.72 L609.80,81.10 L610.13,86.04 L610.47,91.97 L610.80,96.60 L611.13,99.84 L611.47,102.50 L611.80,103.60 L612.03,100.89 L612.27,95.24 L612.50,90.40 L612.73,87.04 L612.97,84.14 L613.20,82.90 L613.43,85.35 L613.67,90.85 L613.90,96.60 L614.10,100.78 L614.30,105.07 L614.50,109.77 L614.70,115.20 L614.80,118.69 L614.90,123.10 L615.00,128.20 L615.10,133.75 L615.20,139.52 L615.30,145.28 L615.40,150.79 L615.50,155.83 L615.60,160.15 L615.70,163.52 L615.80,165.72 L615.90,166.50 L616.04,165.61 L616.17,163.16 L616.31,159.43 L616.45,154.73 L616.58,149.37 L616.72,143.63 L616.85,137.83 L616.99,132.27 L617.13,127.24 L617.26,123.05 L617.40,120.00 L617.70,115.91 L618.00,112.10 L618.30,105.13 L618.60,100.50 L618.90,101.02 L619.20,102.38 L619.50,104.30 L619.77,107.41 L620.03,112.73 L620.30,119.90 L620.36,122.07 L620.42,125.00 L620.48,128.58 L620.54,132.71 L620.59,137.30 L620.65,142.23 L620.71,147.40 L620.77,152.72 L620.83,158.07 L620.89,163.36 L620.95,168.48 L621.01,173.34 L621.06,177.83 L621.12,181.84 L621.18,185.27 L621.24,188.03 L621.30,190.00 L621.60,197.49 L621.90,204.02 L622.20,209.43 L622.50,213.51 L622.80,216.10 L623.10,217.00 L623.38,215.95 L623.67,213.04 L623.95,208.63 L624.23,203.08 L624.52,196.75 L624.80,190.00 L624.89,187.62 L624.97,184.71 L625.06,181.34 L625.15,177.58 L625.23,173.50 L625.32,169.16 L625.41,164.64 L625.49,160.00 L625.58,155.31 L625.67,150.64 L625.75,146.06 L625.84,141.64 L625.93,137.44 L626.01,133.54 L626.10,130.00 L626.23,125.26 L626.35,120.66 L626.48,116.21 L626.60,111.92 L626.73,107.81 L626.85,103.87 L626.98,100.14 L627.10,96.60 L627.30,91.04 L627.50,85.58 L627.70,80.57 L627.90,76.36 L628.10,73.30 L628.37,70.21 L628.63,67.78 L628.90,66.80 L629.23,67.75 L629.57,70.15 L629.90,73.30 L630.12,75.93 L630.34,79.52 L630.56,84.13 L630.78,89.80 L631.00,96.60 L631.08,99.91 L631.16,104.25 L631.24,109.27 L631.32,114.64 L631.40,120.00 L631.45,123.64 L631.51,127.57 L631.56,131.76 L631.61,136.15 L631.66,140.69 L631.72,145.34 L631.77,150.05 L631.82,154.78 L631.88,159.47 L631.93,164.07 L631.98,168.55 L632.04,172.85 L632.09,176.92 L632.14,180.72 L632.19,184.20 L632.25,187.31 L632.30,190.00 L632.43,195.49 L632.56,200.13 L632.69,204.20 L632.81,207.95 L632.94,211.66 L633.07,215.58 L633.20,220.00 L633.30,224.09 L633.40,228.86 L633.50,234.09 L633.60,239.61 L633.70,245.20 L633.80,250.69 L633.90,255.87 L634.00,260.54 L634.10,264.52 L634.20,267.60 L634.30,269.59 L634.40,270.30 L634.49,269.90 L634.59,268.74 L634.68,266.87 L634.78,264.36 L634.87,261.27 L634.96,257.64 L635.06,253.56 L635.15,249.06 L635.25,244.22 L635.34,239.08 L635.44,233.72 L635.53,228.18 L635.62,222.54 L635.72,216.83 L635.81,211.14 L635.91,205.51 L636.00,200.00 L636.05,196.73 L636.11,193.06 L636.16,189.04 L636.21,184.75 L636.26,180.23 L636.32,175.54 L636.37,170.75 L636.42,165.92 L636.48,161.09 L636.53,156.34 L636.58,151.72 L636.64,147.28 L636.69,143.09 L636.74,139.21 L636.79,135.70 L636.85,132.61 L636.90,130.00 L637.04,124.39 L637.17,119.60 L637.31,115.42 L637.45,111.66 L637.59,108.10 L637.73,104.54 L637.86,100.78 L638.00,96.60 L638.13,92.08 L638.26,87.07 L638.39,81.87 L638.51,76.80 L638.64,72.17 L638.77,68.30 L638.90,65.50 L639.17,61.87 L639.43,59.22 L639.70,56.50 L640.00,52.09 L640.30,47.57 L640.60,45.50 L640.87,45.50 L641.13,45.50 L641.40,45.50 L641.67,46.69 L641.93,48.91 L642.20,50.10 L642.50,49.69 L642.80,48.67 L643.10,47.34 L643.40,46.00 L643.67,44.72 L643.95,43.26 L644.23,41.71 L644.50,40.20 L644.80,38.56 L645.10,36.87 L645.40,35.26 L645.70,33.80 L646.00,32.54 L646.30,31.39 L646.60,30.30 L646.90,29.18 L647.20,28.07 L647.50,27.07 L647.80,26.30 L648.10,25.75 L648.40,25.30 L648.70,24.91 L649.00,24.50 L649.27,24.04 L649.55,23.55 L649.83,23.16 L650.10,23.00 L650.40,23.39 L650.70,24.11 L651.00,24.50 L651.30,24.05 L651.60,23.05 L651.90,22.05 L652.20,21.60 L652.50,22.45 L652.80,24.55 L653.10,27.22 L653.40,29.80 L653.67,31.97 L653.93,34.32 L654.20,36.70 L654.50,40.01 L654.80,43.36 L655.10,44.90 L655.37,44.08 L655.63,42.22 L655.90,40.20 L656.23,37.50 L656.57,34.50 L656.90,32.10 L657.17,30.58 L657.45,29.16 L657.73,28.11 L658.00,27.70 L658.33,28.64 L658.67,30.82 L659.00,33.30 L659.27,35.91 L659.53,38.89 L659.80,40.50 L660.08,40.77 L660.36,40.92 L660.64,41.02 L660.92,41.15 L661.20,41.40 L661.47,42.37 L661.73,43.90 L662.00,44.90 L662.30,45.23 L662.60,45.46 L662.90,45.62 L663.20,45.79 L663.50,46.00 L663.80,46.26 L664.10,46.54 L664.40,46.85 L664.70,47.20 L665.04,47.77 L665.38,48.52 L665.72,49.28 L666.06,49.87 L666.40,50.10 L666.70,49.86 L667.00,49.22 L667.30,48.29 L667.60,47.20 L667.88,45.38 L668.15,42.62 L668.43,39.82 L668.70,37.90 L669.03,36.51 L669.37,35.43 L669.70,35.00 L669.97,35.24 L670.23,35.86 L670.50,36.70 L670.80,39.12 L671.10,42.55 L671.40,44.30 L671.67,43.04 L671.93,40.08 L672.20,36.70 L672.50,31.16 L672.80,27.40 L673.10,27.56 L673.40,27.84 L673.70,28.00 L673.97,27.48 L674.23,26.32 L674.50,25.10 L674.80,23.63 L675.10,21.91 L675.40,20.49 L675.70,19.90 L676.00,20.96 L676.30,22.94 L676.60,24.00 L676.87,23.21 L677.13,21.65 L677.40,20.50 L677.70,19.91 L678.00,19.47 L678.30,19.30 L678.53,20.50 L678.77,23.26 L679.00,26.30 L679.25,29.16 L679.50,33.30 L679.60,37.57 L679.70,43.20 L679.80,46.00 L679.97,42.40 L680.13,35.70 L680.30,32.10 L680.50,35.42 L680.70,41.58 L680.90,44.90 L681.10,41.58 L681.30,35.42 L681.50,32.10 L681.65,34.57 L681.80,40.23 L681.95,46.47 L682.10,50.70 L682.37,54.13 L682.63,56.58 L682.90,58.80 L683.20,61.22 L683.50,63.42 L683.80,65.80 L684.13,68.15 L684.47,70.75 L684.80,75.50 L684.86,77.57 L684.91,81.24 L684.97,86.02 L685.03,91.44 L685.09,96.99 L685.14,102.21 L685.20,106.60 L685.28,111.52 L685.36,115.89 L685.44,120.14 L685.52,124.70 L685.60,130.00 L685.64,132.76 L685.67,135.70 L685.71,138.81 L685.75,142.08 L685.78,145.49 L685.82,149.05 L685.86,152.73 L685.89,156.54 L685.93,160.45 L685.97,164.46 L686.00,168.56 L686.04,172.74 L686.08,176.99 L686.11,181.30 L686.15,185.65 L686.19,190.05 L686.22,194.47 L686.26,198.91 L686.30,203.36 L686.33,207.81 L686.37,212.25 L686.41,216.66 L686.44,221.05 L686.48,225.39 L686.52,229.68 L686.55,233.91 L686.59,238.06 L686.63,242.14 L686.66,246.12 L686.70,250.00 L686.74,254.27 L686.78,258.55 L686.82,262.86 L686.86,267.19 L686.90,271.52 L686.94,275.87 L686.99,280.21 L687.03,284.55 L687.07,288.88 L687.11,293.19 L687.15,297.49 L687.19,301.77 L687.23,306.02 L687.27,310.23 L687.31,314.41 L687.35,318.55 L687.39,322.65 L687.43,326.69 L687.47,330.67 L687.51,334.60 L687.56,338.46 L687.60,342.25 L687.64,345.97 L687.68,349.61 L687.72,353.16 L687.76,356.63 L687.80,360.00 L687.86,365.12 L687.92,370.48 L687.98,376.00 L688.04,381.63 L688.11,387.30 L688.17,392.95 L688.23,398.51 L688.29,403.92 L688.35,409.12 L688.41,414.04 L688.47,418.62 L688.53,422.80 L688.59,426.50 L688.66,429.68 L688.72,432.26 L688.78,434.19 L688.84,435.39 L688.90,435.80 L688.99,435.48 L689.09,434.54 L689.18,433.01 L689.28,430.92 L689.37,428.30 L689.47,425.18 L689.56,421.60 L689.66,417.57 L689.75,413.14 L689.84,408.34 L689.94,403.18 L690.03,397.72 L690.13,391.97 L690.22,385.96 L690.32,379.73 L690.41,373.31 L690.51,366.72 L690.60,360.00 L690.63,357.73 L690.66,355.18 L690.69,352.38 L690.72,349.33 L690.75,346.05 L690.78,342.56 L690.81,338.88 L690.84,335.02 L690.87,331.01 L690.90,326.84 L690.93,322.55 L690.96,318.15 L690.99,313.65 L691.01,309.07 L691.04,304.44 L691.07,299.75 L691.10,295.04 L691.13,290.32 L691.16,285.60 L691.19,280.90 L691.22,276.24 L691.25,271.64 L691.28,267.10 L691.31,262.65 L691.34,258.31 L691.37,254.09 L691.40,250.00 L691.43,245.90 L691.46,241.74 L691.49,237.53 L691.52,233.27 L691.55,228.97 L691.58,224.64 L691.61,220.28 L691.64,215.90 L691.67,211.51 L691.70,207.12 L691.73,202.73 L691.76,198.36 L691.79,194.00 L691.82,189.67 L691.85,185.37 L691.88,181.12 L691.91,176.91 L691.94,172.76 L691.97,168.67 L692.00,164.66 L692.03,160.72 L692.06,156.86 L692.09,153.10 L692.12,149.44 L692.15,145.89 L692.18,142.45 L692.21,139.14 L692.24,135.95 L692.27,132.90 L692.30,130.00 L692.36,124.40 L692.42,119.05 L692.48,114.16 L692.54,109.94 L692.60,106.60 L692.74,100.38 L692.88,95.01 L693.02,90.57 L693.16,87.14 L693.30,84.80 L693.57,81.70 L693.83,79.46 L694.10,78.60 L694.30,80.95 L694.50,83.30 L694.70,80.39 L694.90,74.00 L695.10,67.61 L695.30,64.70 L695.57,66.68 L695.85,71.52 L696.12,77.60 L696.40,83.30 L696.64,87.81 L696.88,92.55 L697.12,97.38 L697.36,102.11 L697.60,106.60 L697.88,112.24 L698.16,118.42 L698.44,124.11 L698.72,128.28 L699.00,129.90 L699.26,128.25 L699.52,124.03 L699.78,118.29 L700.04,112.13 L700.30,106.60 L700.54,101.94 L700.78,97.05 L701.02,92.17 L701.26,87.51 L701.50,83.30 L701.77,79.50 L702.05,76.36 L702.33,72.81 L702.60,67.80 L702.80,60.90 L703.10,60.65 L703.40,60.56 L703.70,60.49 L704.00,60.30 L704.30,57.07 L704.60,50.95 L704.90,46.40 L705.17,44.57 L705.43,43.18 L705.70,42.30 L706.00,41.81 L706.30,41.55 L706.60,41.24 L706.90,40.60 L707.15,36.27 L707.40,31.30 L707.73,28.89 L708.07,27.22 L708.40,26.60 L708.70,30.55 L709.00,35.90 L709.27,38.36 L709.53,40.31 L709.80,41.10 L709.92,38.51 L710.05,32.79 L710.17,27.03 L710.30,24.30 L710.60,23.95 L710.90,23.76 L711.20,23.70 L711.55,27.50 L711.90,31.30 L712.17,30.08 L712.43,27.82 L712.70,26.60 L713.00,31.85 L713.30,37.10 L713.55,32.45 L713.80,27.80 L714.10,30.50 L714.40,35.50 L714.70,38.20 L715.00,33.25 L715.30,28.30 L715.60,30.23 L715.90,34.11 L716.20,37.10 L716.50,38.66 L716.80,40.08 L717.10,41.24 L717.40,42.02 L717.70,42.30 L717.98,41.37 L718.25,39.10 L718.52,36.25 L718.80,33.60 L719.10,30.51 L719.40,26.99 L719.70,24.10 L720.00,22.90 L720.27,24.20 L720.53,27.10 L720.80,30.10 L721.07,32.75 L721.33,35.51 L721.60,38.20 L721.93,41.44 L722.27,44.58 L722.60,47.50 L722.88,50.06 L723.15,52.74 L723.43,54.85 L723.70,55.70 L723.90,53.38 L724.10,48.16 L724.30,42.64 L724.50,39.40 L724.83,37.58 L725.17,36.35 L725.50,35.90 L725.70,38.81 L725.90,45.20 L726.10,51.59 L726.30,54.50 L726.47,51.84 L726.65,45.87 L726.83,39.56 L727.00,35.90 L727.27,34.09 L727.53,32.85 L727.80,32.40 L728.10,34.14 L728.40,37.71 L728.70,40.60 L728.97,41.81 L729.23,42.76 L729.50,44.00 L729.80,47.00 L730.10,51.29 L730.40,55.13 L730.70,56.80 L731.00,55.87 L731.30,53.64 L731.60,50.96 L731.90,48.70 L732.17,46.88 L732.45,44.99 L732.73,43.50 L733.00,42.90 L733.33,44.99 L733.67,49.15 L734.00,52.20 L734.27,53.31 L734.53,54.16 L734.80,54.50 L735.00,51.41 L735.20,44.60 L735.40,37.79 L735.60,34.70 L735.95,40.55 L736.30,46.40 L736.57,44.90 L736.83,42.10 L737.10,40.60 L737.37,40.89 L737.63,41.41 L737.90,41.70 L738.08,39.46 L738.26,34.13 L738.44,27.77 L738.62,22.44 L738.80,20.20 L739.13,21.44 L739.47,24.62 L739.80,28.90 L739.96,32.72 L740.12,38.68 L740.28,45.05 L740.44,50.13 L740.60,52.20 L740.68,50.77 L740.75,47.01 L740.83,41.70 L740.90,35.60 L740.98,29.50 L741.05,24.19 L741.12,20.43 L741.20,19.00 L741.50,19.16 L741.80,19.44 L742.10,19.60 L742.37,18.22 L742.63,14.77 L742.90,10.30" fill="none" stroke="#ff0000" stroke-width="1.1" stroke-linejoin="round" clip-path="url(#c)"/>
<g opacity="0.999">
<text x="272.95" y="480.8" text-anchor="middle" textLength="48.5" lengthAdjust="spacing">3000</text>
<text x="457.10" y="480.8" text-anchor="middle" textLength="48.5" lengthAdjust="spacing">2000</text>
<text x="642.15" y="480.8" text-anchor="middle" textLength="48.5" lengthAdjust="spacing">1000</text>
<text x="90.6" y="18.20" text-anchor="end">1</text>
<text x="90.6" y="128.96" text-anchor="end">0.8</text>
<text x="90.6" y="240.52" text-anchor="end">0.6</text>
<text x="90.6" y="352.08" text-anchor="end">0.4</text>
<text x="90.6" y="463.64" text-anchor="end">0.2</text>
<text x="419.7" y="505.3" text-anchor="middle" textLength="197.6" lengthAdjust="spacing">Wavenumber (cm-1)</text>
<text transform="translate(24.1,233.6) rotate(-90)" text-anchor="middle" textLength="220.9" lengthAdjust="spacing">Relative Transmittance</text>
</g>
</svg></body></html>
